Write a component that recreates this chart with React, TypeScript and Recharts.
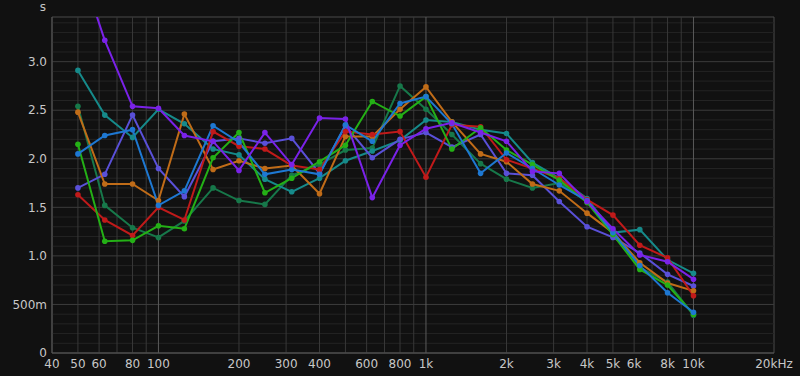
import React from 'react';
import { LineChart, Line, XAxis, YAxis, ReferenceLine, ReferenceArea } from 'recharts';

const FREQS = [50, 63, 80, 100, 125, 160, 200, 250, 315, 400, 500, 630, 800, 1000, 1250, 1600, 2000, 2500, 3150, 4000, 5000, 6300, 8000, 10000];

const RED = [1.63, 1.37, 1.21, 1.50, 1.37, 2.28, 2.13, 2.10, 1.93, 1.89, 2.28, 2.25, 2.28, 1.81, 2.35, 2.33, 1.99, 1.90, 1.80, 1.58, 1.42, 1.11, 0.98, 0.59];
const ORANGE = [2.48, 1.74, 1.74, 1.57, 2.46, 1.89, 1.98, 1.90, 1.93, 1.64, 2.23, 2.23, 2.51, 2.74, 2.38, 2.05, 1.97, 1.74, 1.67, 1.44, 1.24, 0.93, 0.72, 0.64];
const GREEN = [2.15, 1.15, 1.16, 1.31, 1.28, 2.01, 2.27, 1.65, 1.80, 1.97, 2.14, 2.59, 2.44, 2.64, 2.10, 2.32, 2.09, 1.94, 1.78, 1.55, 1.22, 0.86, 0.70, 0.40];
const DARKGREEN = [2.54, 1.52, 1.29, 1.19, 1.36, 1.70, 1.57, 1.53, 1.83, 1.94, 2.09, 2.11, 2.75, 2.51, 2.25, 1.95, 1.79, 1.70, 1.75, 1.56, 1.26, 0.88, 0.73, 0.39];
const TEAL = [2.91, 2.45, 2.22, 2.51, 2.36, 2.10, 2.04, 1.79, 1.66, 1.80, 1.98, 2.08, 2.19, 2.40, 2.38, 2.30, 2.26, 1.96, 1.80, 1.59, 1.24, 1.27, 0.96, 0.82];
const BLUE = [2.05, 2.24, 2.30, 1.52, 1.67, 2.34, 2.17, 1.84, 1.89, 1.84, 2.35, 2.18, 2.57, 2.64, 2.36, 1.85, 2.06, 1.90, 1.73, 1.57, 1.24, 0.90, 0.62, 0.42];
const SLATE = [1.70, 1.84, 2.45, 1.90, 1.61, 2.18, 2.21, 2.16, 2.21, 1.85, 2.34, 2.01, 2.20, 2.27, 2.12, 2.25, 1.85, 1.83, 1.56, 1.30, 1.19, 1.03, 0.81, 0.69];
const PURPLE = [4.05, 3.22, 2.54, 2.52, 2.24, 2.18, 1.88, 2.27, 1.94, 2.42, 2.41, 1.60, 2.14, 2.31, 2.37, 2.27, 2.18, 1.87, 1.85, 1.56, 1.28, 1.01, 0.94, 0.76];

const X_TICKS = [40, 50, 60, 80, 100, 200, 300, 400, 600, 800, 1000, 2000, 3000, 4000, 5000, 6000, 8000, 10000, 20000];
const X_MINOR = [50, 60, 70, 80, 90, 200, 300, 400, 500, 600, 700, 800, 900, 2000, 3000, 4000, 5000, 6000, 7000, 8000, 9000];
const X_MAJOR = [100, 1000, 10000];
const Y_TICKS = [0, 0.5, 1.0, 1.5, 2.0, 2.5, 3.0];
const Y_FINE = [0.1, 0.2, 0.3, 0.4, 0.6, 0.7, 0.8, 0.9, 1.1, 1.2, 1.3, 1.4, 1.6, 1.7, 1.8, 1.9, 2.1, 2.2, 2.3, 2.4, 2.6, 2.7, 2.8, 2.9, 3.1, 3.2, 3.3, 3.4];

const SERIES = [
  { key: 'darkgreen', values: DARKGREEN, color: '#17784a' },
  { key: 'teal', values: TEAL, color: '#168a8a' },
  { key: 'slate', values: SLATE, color: '#5a50d8' },
  { key: 'orange', values: ORANGE, color: '#c06c18' },
  { key: 'red', values: RED, color: '#c01a1a' },
  { key: 'green', values: GREEN, color: '#24b016' },
  { key: 'blue', values: BLUE, color: '#1e78d2' },
  { key: 'purple', values: PURPLE, color: '#7a22e8' },
];

const data = FREQS.map((f, i) => {
  const row: Record<string, number> = { f };
  SERIES.forEach((s) => { row[s.key] = s.values[i]; });
  return row;
});

const X_DOMAIN: [number, number] = [40, 20000];
const Y_DOMAIN: [number, number] = [0, 3.46];

const fmtX = (v: number) => (v === 20000 ? '20kHz' : v >= 1000 ? `${v / 1000}k` : `${v}`);
const fmtY = (v: number) => (v === 0 ? '0' : v === 0.5 ? '500m' : v.toFixed(1));

const tickStyle = { fill: '#c8c8c8', fontSize: 12, fontFamily: 'DejaVu Sans' };

export default function App() {
  return (
    <div style={{ position: 'absolute', left: 0, top: 0, width: 800, height: 376, background: '#111111' }}>
      <LineChart width={800} height={376} data={data} margin={{ top: 17, right: 26, bottom: 0, left: 0 }}>
        <XAxis dataKey="f" type="number" scale="log" domain={X_DOMAIN} allowDataOverflow ticks={X_TICKS}
          tickFormatter={fmtX} tick={tickStyle} tickLine={false} tickSize={0} tickMargin={6} height={23}
          axisLine={{ stroke: '#555555' }} interval={0} />
        <YAxis type="number" domain={Y_DOMAIN} allowDataOverflow ticks={Y_TICKS} tickFormatter={fmtY}
          tick={tickStyle} tickLine={false} tickSize={0} tickMargin={5} width={52} axisLine={{ stroke: '#555555' }} interval={0} />
        {Y_FINE.map((v) => (
          <ReferenceLine key={`yf${v}`} y={v} stroke="#242424" strokeWidth={1} />
        ))}
        {X_MINOR.map((v) => (
          <ReferenceLine key={`xm${v}`} x={v} stroke="#383838" strokeWidth={1} />
        ))}
        {Y_TICKS.filter((v) => v > 0).map((v) => (
          <ReferenceLine key={`yt${v}`} y={v} stroke="#3c3c3c" strokeWidth={1} />
        ))}
        {X_MAJOR.map((v) => (
          <ReferenceLine key={`xM${v}`} x={v} stroke="#5a5a5a" strokeWidth={1} />
        ))}
        <ReferenceArea x1={40} x2={20000} y1={0} y2={3.46} fill="none" stroke="#4a4a4a" ifOverflow="visible" />
        {SERIES.map((s) => (
          <Line key={s.key} dataKey={s.key} type="linear" stroke={s.color} strokeWidth={2}
            dot={{ r: 2.8, fill: s.color, stroke: s.color, strokeWidth: 0 }} activeDot={false} isAnimationActive={false} />
        ))}
        <text x={46} y={11} textAnchor="end" fill="#c8c8c8" fontSize={12} fontFamily="DejaVu Sans">s</text>
      </LineChart>
    </div>
  );
}
